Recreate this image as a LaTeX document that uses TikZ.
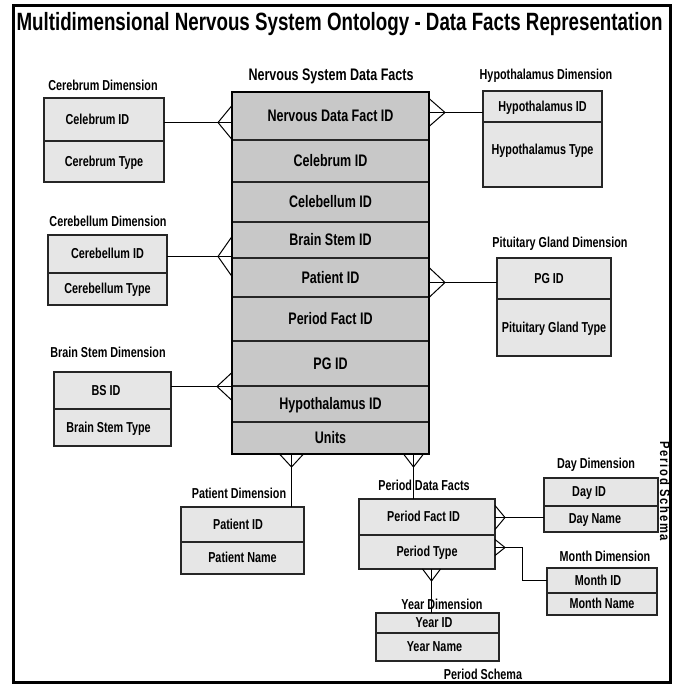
\documentclass[tikz,border=0pt]{standalone}
\usepackage{fontspec}
\newfontfamily\nb{Liberation Sans}[FakeStretch=0.75]
\newfontfamily\nbspaced{Liberation Sans}[FakeStretch=0.8,LetterSpace=12]
\usetikzlibrary{calc}

\definecolor{factgray}{HTML}{C8C8C8}
\definecolor{dimgray}{HTML}{E6E6E6}
\definecolor{edge}{HTML}{262626}

% crow's feet: #1 point on the box edge, #2 depth, #3 half spread
\newcommand\crowL[3]{\draw[conn] (#1) ++(-#2,0) -- ++(#2,-#3) (#1) ++(-#2,0) -- ++(#2,#3);}
\newcommand\crowR[3]{\draw[conn] (#1) ++(#2,0) -- ++(-#2,-#3) (#1) ++(#2,0) -- ++(-#2,#3);}
\newcommand\crowD[3]{\draw[conn] (#1) ++(0,#2) -- ++(-#3,-#2) (#1) ++(0,#2) -- ++(#3,-#2);}

\tikzset{
  bigf/.style={font=\nb\bfseries\fontsize{16.7}{18}\selectfont, text height=11.5pt, text depth=0pt},
  smallf/.style={font=\nb\bfseries\fontsize{14.4}{16}\selectfont, text height=9.9pt, text depth=0pt},
  titlef/.style={font=\nb\bfseries\fontsize{25}{28}\selectfont, text height=17.2pt, text depth=0pt},
  frow/.style={bigf, draw=edge, line width=1.2pt, fill=factgray, minimum width=197pt,
    minimum height=#1, inner sep=0pt, outer sep=0pt, anchor=north west},
  drow/.style={smallf, draw=edge, line width=1.2pt, fill=dimgray,
    minimum height=#1, inner sep=0pt, outer sep=0pt, anchor=north west},
  lbl/.style={smallf, inner sep=0pt},
  conn/.style={draw=black, line width=1pt},
  tl/.style={execute at end node={\hspace*{#1}}},
}

\begin{document}
\begin{tikzpicture}[x=1pt,y=-1pt]
\useasboundingbox (0,0) rectangle (677,684);
\fill[white] (0,0) rectangle (677,684);

% outer frame and title
\draw[line width=3pt] (13.5,5.5) rectangle (670,682);
\node[titlef, inner sep=0pt] (title) at (339.5,22)
  {Multidimensional Nervous System Ontology - Data Facts Representation};

% fact table
\node[bigf, inner sep=0pt] (nfl) at (331,75) {Nervous System Data Facts};
\node[frow=48pt] (nf1) at (232,92) {Nervous Data Fact ID};
\node[frow=42pt] (nf2) at (nf1.south west) {Celebrum ID};
\node[frow=40pt] (nf3) at (nf2.south west) {Celebellum ID};
\node[frow=36pt] (nf4) at (nf3.south west) {Brain Stem ID};
\node[frow=39pt] (nf5) at (nf4.south west) {Patient ID};
\node[frow=44pt] (nf6) at (nf5.south west) {Period Fact ID};
\node[frow=45pt] (nf7) at (nf6.south west) {PG ID};
\node[frow=36pt] (nf8) at (nf7.south west) {Hypothalamus ID};
\node[frow=32pt] (nf9) at (nf8.south west) {Units};
\draw[line width=1.8pt] (nf1.north west) rectangle (nf9.south east);

% dimensions
\node[lbl] (cel) at (103,86) {Cerebrum Dimension};
\node[drow=43pt, minimum width=120pt, tl=13pt] (ce1) at (44,98) {Celebrum ID};
\node[drow=41pt, minimum width=120pt] (ce2) at (ce1.south west) {Cerebrum Type};

\node[lbl] (cll) at (108,222) {Cerebellum Dimension};
\node[drow=38pt, minimum width=119pt] (cl1) at (48,235) {Cerebellum ID};
\node[drow=32pt, minimum width=119pt] (cl2) at (cl1.south west) {Cerebellum Type};

\node[lbl] (bsl) at (108,353) {Brain Stem Dimension};
\node[drow=37pt, minimum width=117pt, tl=13pt] (bs1) at (54,372) {BS ID};
\node[drow=37pt, minimum width=117pt, tl=8pt] (bs2) at (bs1.south west) {Brain Stem Type};

\node[lbl] (hyl) at (546,75) {Hypothalamus Dimension};
\node[drow=31pt, minimum width=119pt] (hy1) at (483,91) {Hypothalamus ID};
\node[drow=65pt, minimum width=119pt] (hy2) at (hy1.south west) {\raisebox{4.5pt}{Hypothalamus Type}};

\node[lbl] (pgl) at (560,243) {Pituitary Gland Dimension};
\node[drow=41pt, minimum width=114pt, tl=10pt] (pg1) at (497,258) {PG ID};
\node[drow=57pt, minimum width=114pt] (pg2) at (pg1.south west) {Pituitary Gland Type};

\node[lbl] (pal) at (239,494) {Patient Dimension};
\node[drow=35pt, minimum width=123pt, tl=9pt] (pa1) at (181,507) {Patient ID};
\node[drow=32pt, minimum width=123pt] (pa2) at (pa1.south west) {Patient Name};

% period schema
\node[lbl] (pdl) at (424,486) {Period Data Facts};
\node[drow=36pt, minimum width=136pt, tl=7pt] (pd1) at (359,499) {Period Fact ID};
\node[drow=34pt, minimum width=136pt] (pd2) at (pd1.south west) {Period Type};

\node[lbl] (dyl) at (596,464) {Day Dimension};
\node[drow=28pt, minimum width=114pt, tl=24pt] (dy1) at (544,478) {Day ID};
\node[drow=26pt, minimum width=114pt, tl=12pt] (dy2) at (dy1.south west) {Day Name};

\node[lbl] (mol) at (605,557) {Month Dimension};
\node[drow=25pt, minimum width=110pt, tl=8pt] (mo1) at (547,568) {Month ID};
\node[drow=22pt, minimum width=110pt] (mo2) at (mo1.south west) {Month Name};

\node[lbl] (yrl) at (442,605) {Year Dimension};
\node[drow=20pt, minimum width=123pt, tl=7pt] (yr1) at (376,613) {Year ID};
\node[drow=28pt, minimum width=123pt, tl=6pt] (yr2) at (yr1.south west) {Year Name};

\node[lbl] (psl) at (483,675) {Period Schema};
\node[smallf, inner sep=0pt, rotate=-90, font=\nbspaced\bfseries\fontsize{14}{16}\selectfont]
  (psv) at (665,491.5) {Period Schema};

% connectors
\coordinate (a1) at ($(ce1.east)+(0,3)$);
\draw[conn] (a1) -- (a1 -| nf1.west);
\crowL{a1 -| nf1.west}{14}{17}

\coordinate (a2) at ($(cl1.east)+(0,2.5)$);
\draw[conn] (a2) -- (a2 -| nf1.west);
\crowL{a2 -| nf1.west}{14}{20}

\coordinate (a3) at ($(bs1.east)+(0,-4)$);
\draw[conn] (a3) -- (a3 -| nf1.west);
\crowL{a3 -| nf1.west}{15}{14}

\coordinate (a4) at ($(hy1.west)+(0,6)$);
\draw[conn] (a4 -| nf1.east) -- (a4);
\crowR{a4 -| nf1.east}{16}{14}

\coordinate (a5) at ($(pg1.west)+(0,4)$);
\draw[conn] (a5 -| nf1.east) -- (a5);
\crowR{a5 -| nf1.east}{16}{15}

\coordinate (a6) at ($(pa1.north east)+(-12.5,0)$);
\draw[conn] (a6 |- nf9.south) -- (a6);
\crowD{a6 |- nf9.south}{13}{12}

\coordinate (a7) at ($(pd1.north)+(-13.5,0)$);
\draw[conn] (a7 |- nf9.south) -- (a7);
\crowD{a7 |- nf9.south}{13}{10}

\coordinate (a8) at ($(pd1.east)+(0,0.5)$);
\draw[conn] (a8) -- (a8 -| dy2.west);
\crowR{a8}{10}{12}

\coordinate (a9) at ($(pd2.east)+(0,-4.5)$);
\draw[conn] (a9) -- ++(27,0) |- (mo1.west);
\crowR{a9}{10}{8}

\coordinate (a10) at ($(pd2.south)+(4.5,0)$);
\draw[conn] (a10) -- (a10 |- yr1.north);
\crowD{a10}{12}{9}
\end{tikzpicture}
\end{document}
